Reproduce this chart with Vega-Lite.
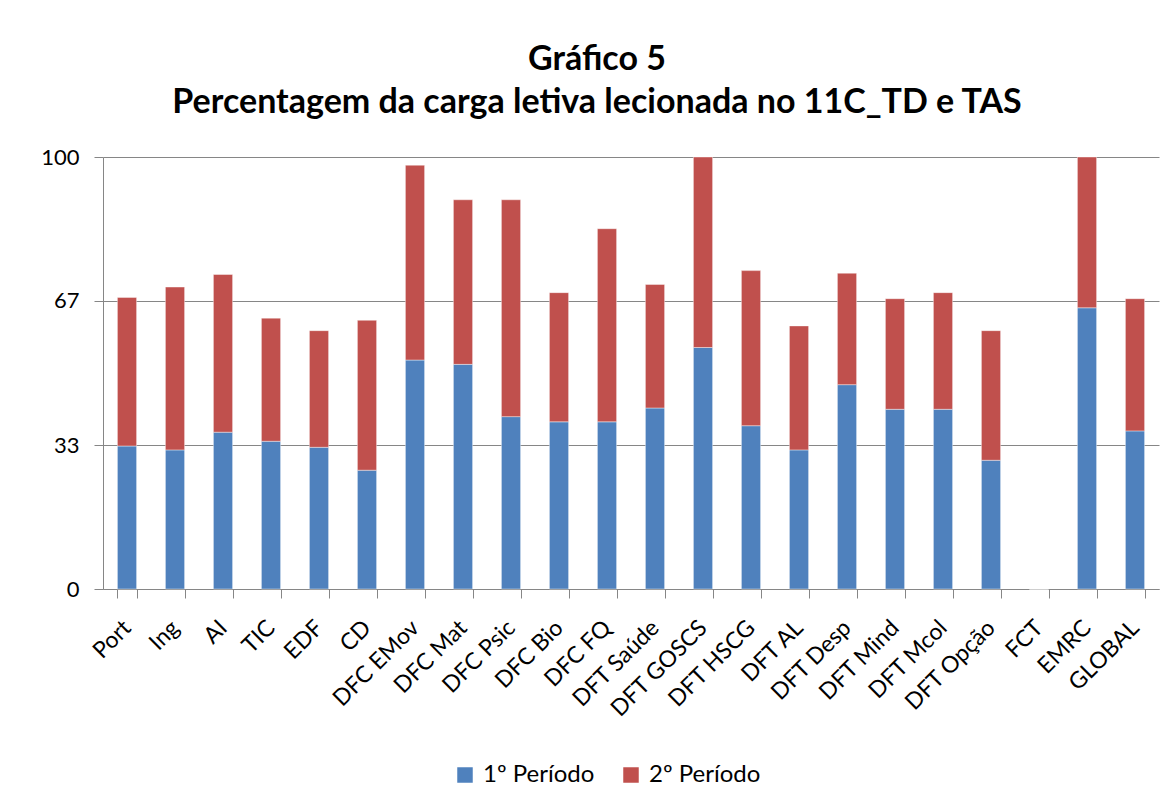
{
  "$schema": "https://vega.github.io/schema/vega-lite/v6.json",
  "width": 1056,
  "height": 432,
  "autosize": {"type": "none"},
  "padding": {"left": 103, "top": 157, "right": 17, "bottom": 218},
  "background": "white",
  "title": {
    "text": ["Gráfico 5", "Percentagem da carga letiva lecionada no 11C_TD e TAS"],
    "font": "Lato",
    "fontSize": 34,
    "fontWeight": "bold",
    "lineHeight": 43,
    "color": "#000000",
    "anchor": "middle",
    "dx": -34,
    "offset": 26
  },
  "data": {
    "values": [
      {"disciplina": "Port", "periodo": "1º Período", "valor": 33.1},
      {"disciplina": "Port", "periodo": "2º Período", "valor": 34.4},
      {"disciplina": "Ing", "periodo": "1º Período", "valor": 32.2},
      {"disciplina": "Ing", "periodo": "2º Período", "valor": 37.7},
      {"disciplina": "AI", "periodo": "1º Período", "valor": 36.3},
      {"disciplina": "AI", "periodo": "2º Período", "valor": 36.5},
      {"disciplina": "TIC", "periodo": "1º Período", "valor": 34.2},
      {"disciplina": "TIC", "periodo": "2º Período", "valor": 28.5},
      {"disciplina": "EDF", "periodo": "1º Período", "valor": 32.8},
      {"disciplina": "EDF", "periodo": "2º Período", "valor": 27.0},
      {"disciplina": "CD", "periodo": "1º Período", "valor": 27.5},
      {"disciplina": "CD", "periodo": "2º Período", "valor": 34.7},
      {"disciplina": "DFC EMov", "periodo": "1º Período", "valor": 53.0},
      {"disciplina": "DFC EMov", "periodo": "2º Período", "valor": 45.1},
      {"disciplina": "DFC Mat", "periodo": "1º Período", "valor": 52.0},
      {"disciplina": "DFC Mat", "periodo": "2º Período", "valor": 38.1},
      {"disciplina": "DFC Psic", "periodo": "1º Período", "valor": 39.9},
      {"disciplina": "DFC Psic", "periodo": "2º Período", "valor": 50.2},
      {"disciplina": "DFC Bio", "periodo": "1º Período", "valor": 38.7},
      {"disciplina": "DFC Bio", "periodo": "2º Período", "valor": 29.9},
      {"disciplina": "DFC FQ", "periodo": "1º Período", "valor": 38.7},
      {"disciplina": "DFC FQ", "periodo": "2º Período", "valor": 44.7},
      {"disciplina": "DFT Saúde", "periodo": "1º Período", "valor": 41.9},
      {"disciplina": "DFT Saúde", "periodo": "2º Período", "valor": 28.6},
      {"disciplina": "DFT GOSCS", "periodo": "1º Período", "valor": 55.9},
      {"disciplina": "DFT GOSCS", "periodo": "2º Período", "valor": 44.1},
      {"disciplina": "DFT HSCG", "periodo": "1º Período", "valor": 37.8},
      {"disciplina": "DFT HSCG", "periodo": "2º Período", "valor": 35.9},
      {"disciplina": "DFT AL", "periodo": "1º Período", "valor": 32.2},
      {"disciplina": "DFT AL", "periodo": "2º Período", "valor": 28.7},
      {"disciplina": "DFT Desp", "periodo": "1º Período", "valor": 47.3},
      {"disciplina": "DFT Desp", "periodo": "2º Período", "valor": 25.8},
      {"disciplina": "DFT Mind", "periodo": "1º Período", "valor": 41.6},
      {"disciplina": "DFT Mind", "periodo": "2º Período", "valor": 25.6},
      {"disciplina": "DFT Mcol", "periodo": "1º Período", "valor": 41.6},
      {"disciplina": "DFT Mcol", "periodo": "2º Período", "valor": 27.0},
      {"disciplina": "DFT Opção", "periodo": "1º Período", "valor": 29.8},
      {"disciplina": "DFT Opção", "periodo": "2º Período", "valor": 30.0},
      {"disciplina": "FCT", "periodo": "1º Período", "valor": 0},
      {"disciplina": "FCT", "periodo": "2º Período", "valor": 0},
      {"disciplina": "EMRC", "periodo": "1º Período", "valor": 65.1},
      {"disciplina": "EMRC", "periodo": "2º Período", "valor": 34.9},
      {"disciplina": "GLOBAL", "periodo": "1º Período", "valor": 36.6},
      {"disciplina": "GLOBAL", "periodo": "2º Período", "valor": 30.6}
    ]
  },
  "mark": {"type": "bar", "stroke": "#ffffff", "strokeWidth": 0.6, "strokeOpacity": 0.7},
  "encoding": {
    "x": {
      "field": "disciplina",
      "type": "nominal",
      "sort": null,
      "title": null,
      "scale": {"paddingInner": 0.6, "paddingOuter": 0.3},
      "axis": {
        "labelAngle": -45,
        "labelAlign": "right",
        "labelBaseline": "middle",
        "labelFont": "Lato",
        "labelFontSize": 23,
        "labelColor": "#000000",
        "labelPadding": 26,
        "tickBand": "extent",
        "tickSize": 9,
        "tickColor": "#868686",
        "domainColor": "#868686",
        "grid": false
      }
    },
    "y": {
      "field": "valor",
      "type": "quantitative",
      "stack": "zero",
      "title": null,
      "scale": {"domain": [0, 100], "nice": false},
      "axis": {
        "values": [0, 33.3333, 66.6667, 100],
        "format": ".0f",
        "labelFont": "Lato",
        "labelFontSize": 22,
        "labelColor": "#000000",
        "labelPadding": 15,
        "tickSize": 9,
        "tickColor": "#868686",
        "domainColor": "#868686",
        "grid": true,
        "gridColor": "#868686",
        "gridOpacity": 1
      }
    },
    "order": {"field": "periodo", "sort": "ascending"},
    "color": {
      "field": "periodo",
      "type": "nominal",
      "title": null,
      "scale": {"domain": ["1º Período", "2º Período"], "range": ["#4F81BD", "#C0504D"]},
      "legend": {
        "orient": "none",
        "legendX": 350,
        "legendY": 606,
        "direction": "horizontal",
        "symbolType": "square",
        "symbolSize": 240,
        "symbolStrokeWidth": 0,
        "labelFont": "Lato",
        "labelFontSize": 24,
        "labelColor": "#000000",
        "columnPadding": 24,
        "labelOffset": 6
      }
    }
  },
  "config": {"view": {"stroke": null}}
}
